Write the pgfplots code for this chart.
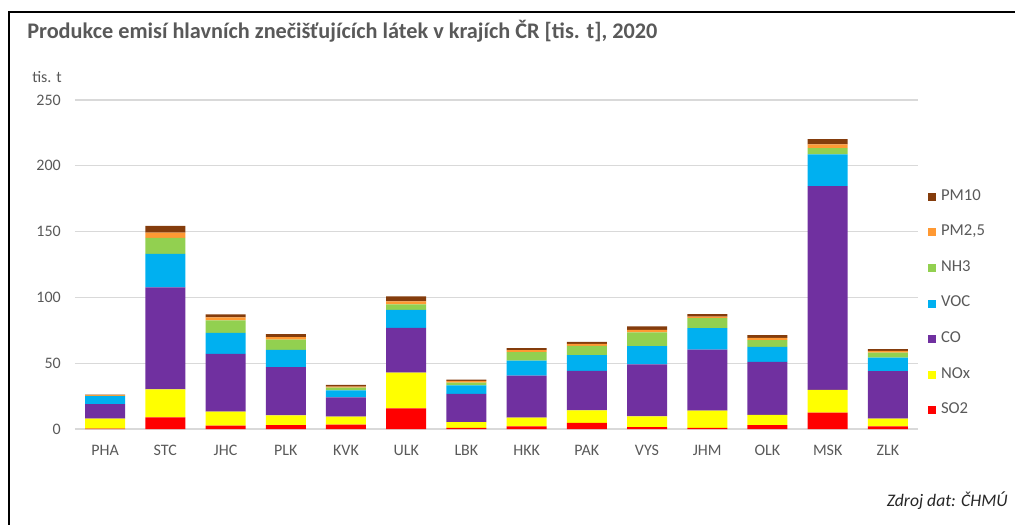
\documentclass[border=0pt]{standalone}
\usepackage{fontspec}
\setmainfont{Carlito}
\usepackage{pgfplots}
\usepackage{pgfplotstable}
\pgfplotsset{compat=1.18}

\definecolor{txt}{HTML}{595959}
\definecolor{gridc}{HTML}{D9D9D9}
\definecolor{cSO}{HTML}{FF0000}
\definecolor{cNO}{HTML}{FFFF00}
\definecolor{cCO}{HTML}{7030A0}
\definecolor{cVOC}{HTML}{00B0F0}
\definecolor{cNH}{HTML}{92D050}
\definecolor{cPMa}{HTML}{FF9933}
\definecolor{cPMb}{HTML}{843C0C}

\pgfplotsset{sqleg/.style={legend image code/.code={\fill[##1] (0pt,-3pt) rectangle (6pt,3pt);}}}

% emise v tis. t
\pgfplotstableread{
i  SO2   NOx   CO     VOC   NH3   PM25  PM10
0  0.2   7.7   11.1   5.9   0.2   0.6   0.4
1  8.9   21.3  77.4   25.4  12.2  4.0   5.1
2  2.5   10.7  43.9   16.0  9.4   2.3   2.3
3  3.0   7.4   36.6   13.2  7.8   1.8   2.3
4  3.3   6.1   14.7   5.3   2.1   0.7   1.3
5  15.7  27.2  34.0   13.7  4.1   2.3   3.8
6  0.8   4.5   21.3   6.6   2.1   1.2   1.1
7  2.0   6.6   32.0   11.4  6.4   1.5   1.5
8  4.6   9.6   30.0   11.9  7.1   1.5   1.5
9  1.5   8.1   39.6   13.7  10.5  2.0   2.5
10 0.8   13.2  46.4   16.2  7.7   1.0   2.0
11 3.0   7.7   40.3   11.4  5.1   1.8   2.0
12 12.4  17.3  154.8  24.1  4.9   2.7   4.1
13 2.0   5.9   36.0   10.4  3.8   1.3   1.3
}\data

\begin{document}
\begin{tikzpicture}[x=0.75pt,y=-0.75pt]
\useasboundingbox (0,0) rectangle (1015,525);
\draw[line width=1.5pt] (8.5,525) -- (8.5,12) -- (1015,12);
\node[anchor=base west, inner sep=0pt, text=txt, font=\bfseries\fontsize{16.7}{19}\selectfont]
  at (27,38) {Produkce emisí hlavních znečišťujících látek v krajích ČR [tis. t], 2020};
\node[anchor=base, inner sep=0pt, text=txt, font=\fontsize{12}{14}\selectfont] at (47,82) {tis. t};
\node[anchor=base east, inner sep=0pt, text=black!85, font=\itshape\fontsize{13.2}{15}\selectfont]
  at (1008,506) {Zdroj dat: ČHMÚ};

\begin{axis}[
    at={(56.25pt,-321.75pt)}, anchor=south west,
    scale only axis, width=632.25pt, height=246.75pt,
    ybar stacked, bar width=30pt,
    xmin=-0.5, xmax=13.5, ymin=0, ymax=250,
    xtick={0,...,13},
    xticklabels={PHA,STC,JHC,PLK,KVK,ULK,LBK,HKK,PAK,VYS,JHM,OLK,MSK,ZLK},
    ytick={0,50,...,250},
    major tick length=0pt,
    axis line style={draw=none},
    ymajorgrids, grid style={gridc, line width=0.9pt},
    ticklabel style={text=txt, font=\fontsize{12}{14}\selectfont},
    /pgf/number format/assume math mode=true,
    xticklabel style={anchor=base, inner sep=0pt, yshift=-19.5pt},
    yticklabel style={anchor=east, inner sep=0pt, xshift=-10.5pt},
    reverse legend,
    legend style={at={(1.012,0.725)}, anchor=north west, draw=none, fill=none,
      inner sep=0pt, row sep=17.7pt, column sep=3.5pt,
      font=\fontsize{12.5}{14}\selectfont, text=txt,
      nodes={inner sep=0pt, text height=7pt, text depth=2pt}},
    legend cell align=left,
  ]
  \addplot[fill=cSO, draw=none, sqleg] table[x=i, y=SO2] {\data};
  \addlegendentry{SO2}
  \addplot[fill=cNO, draw=none, sqleg] table[x=i, y=NOx] {\data};
  \addlegendentry{NOx}
  \addplot[fill=cCO, draw=none, sqleg] table[x=i, y=CO] {\data};
  \addlegendentry{CO}
  \addplot[fill=cVOC, draw=none, sqleg] table[x=i, y=VOC] {\data};
  \addlegendentry{VOC}
  \addplot[fill=cNH, draw=none, sqleg] table[x=i, y=NH3] {\data};
  \addlegendentry{NH3}
  \addplot[fill=cPMa, draw=none, sqleg] table[x=i, y=PM25] {\data};
  \addlegendentry{PM2,5}
  \addplot[fill=cPMb, draw=none, sqleg] table[x=i, y=PM10] {\data};
  \addlegendentry{PM10}
\end{axis}
\end{tikzpicture}
\end{document}
